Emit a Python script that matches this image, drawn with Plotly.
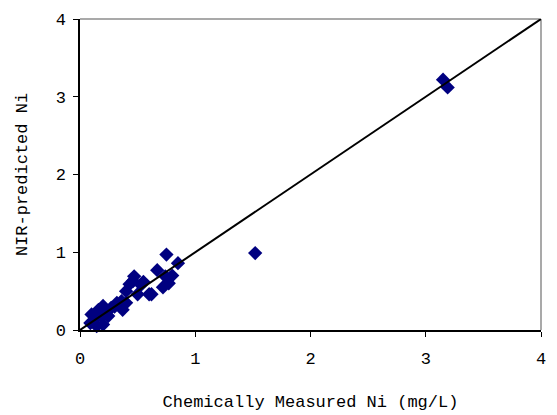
import plotly.graph_objects as go

measured = [3.15, 3.19, 1.52, 0.75, 0.85, 0.80, 0.67, 0.74, 0.72, 0.77,
            0.47, 0.46, 0.43, 0.53, 0.60, 0.55, 0.50, 0.62, 0.40, 0.40,
            0.36, 0.37, 0.32, 0.27, 0.30, 0.20, 0.16, 0.10, 0.09, 0.145,
            0.20, 0.245, 0.19, 0.13, 0.22]
predicted = [3.22, 3.12, 0.99, 0.97, 0.86, 0.70, 0.77, 0.69, 0.55, 0.60,
             0.69, 0.63, 0.59, 0.58, 0.46, 0.62, 0.46, 0.46, 0.50, 0.35,
             0.37, 0.26, 0.35, 0.285, 0.30, 0.31, 0.26, 0.20, 0.09, 0.05,
             0.07, 0.18, 0.18, 0.14, 0.24]
fit_x = [0, 4.07]
fit_y = [0, 4.07]
ticks = [0, 1, 2, 3, 4]

font = "'Liberation Mono', 'Courier New', monospace"

fig = go.Figure()
fig.add_trace(go.Scatter(x=measured, y=predicted, mode="markers",
                         marker=dict(symbol="diamond", size=11, color="#000080",
                                     line=dict(width=0)),
                         cliponaxis=False, showlegend=False))
fig.add_trace(go.Scatter(x=fit_x, y=fit_y, mode="lines",
                         line=dict(color="black", width=2),
                         cliponaxis=False, showlegend=False))

# page has an 8px body margin, so the figure is sized to fit inside it
fig.update_layout(
    width=549, height=407,
    margin=dict(l=72, r=16, t=11, b=85),
    paper_bgcolor="white", plot_bgcolor="white",
    font=dict(family=font, size=17, color="black"),
    xaxis=dict(range=[0, 4], tickvals=ticks, showgrid=False, zeroline=False,
               showline=True, linecolor="black", linewidth=1.5,
               ticks="outside", ticklen=5, tickcolor="black",
               ticklabelstandoff=7, automargin=False,
               title=dict(text="Chemically Measured Ni (mg/L)",
                          font=dict(size=17), standoff=27)),
    yaxis=dict(range=[0, 4], tickvals=ticks, showgrid=False, zeroline=False,
               showline=True, linecolor="black", linewidth=1.5,
               ticks="outside", ticklen=5, tickcolor="black",
               ticklabelstandoff=4, automargin=False,
               title=dict(text="NIR-predicted Ni", font=dict(size=17), standoff=24)),
    shapes=[
        dict(type="line", xref="paper", yref="paper", x0=0, x1=1, y0=1, y1=1,
             line=dict(color="#8c8c8c", width=1.5), layer="below"),
        dict(type="line", xref="paper", yref="paper", x0=1, x1=1, y0=0, y1=1,
             line=dict(color="#8c8c8c", width=1.5), layer="below"),
    ],
)

fig.write_html("out.html")
